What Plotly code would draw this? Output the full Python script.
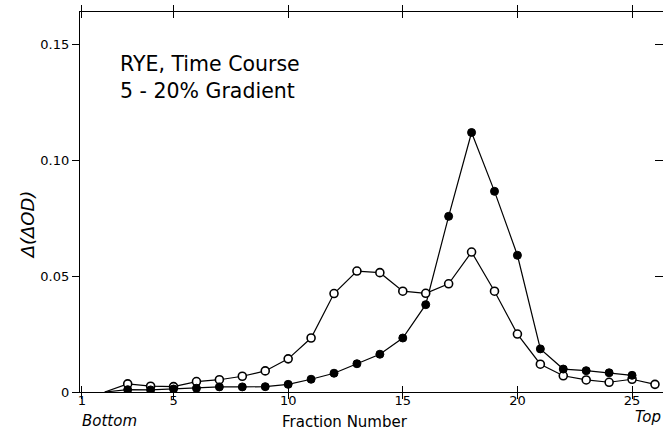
import plotly.graph_objects as go

fractions = [2, 3, 4, 5, 6, 7, 8, 9, 10, 11, 12, 13, 14, 15, 16, 17, 18, 19, 20, 21, 22, 23, 24, 25, 26]
open_vals = [0, 0.0035, 0.0025, 0.0023, 0.0045, 0.0053, 0.0068, 0.0091, 0.0143, 0.0233, 0.0425,
             0.0522, 0.0515, 0.0435, 0.0426, 0.0467, 0.0604, 0.0435, 0.025, 0.012, 0.007,
             0.0052, 0.0042, 0.0055, 0.0033]
filled_fractions = fractions[:-1]
filled_vals = [0, 0.001, 0.0009, 0.0013, 0.0016, 0.0022, 0.0022, 0.0023, 0.0033, 0.0055, 0.0081,
               0.0122, 0.0163, 0.0233, 0.0377, 0.0758, 0.112, 0.0866, 0.059, 0.0186, 0.0099,
               0.0092, 0.0083, 0.0072]
x_ticks = [1, 5, 10, 15, 20, 25]
y_ticks = [0, 0.05, 0.10, 0.15]
y_tick_text = ["0", "0.05", "0.10", "0.15"]

FONT = "DejaVu Sans, Liberation Sans, sans-serif"

fig = go.Figure()
# lines (start from fraction 2 with no marker)
fig.add_trace(go.Scatter(x=fractions, y=open_vals, mode="lines",
                         line=dict(color="black", width=1.2), showlegend=False))
fig.add_trace(go.Scatter(x=filled_fractions, y=filled_vals, mode="lines",
                         line=dict(color="black", width=1.2), showlegend=False))
# markers
fig.add_trace(go.Scatter(x=fractions[1:], y=open_vals[1:], mode="markers",
                         marker=dict(symbol="circle", size=8, color="white",
                                     line=dict(color="black", width=1.6)),
                         showlegend=False))
fig.add_trace(go.Scatter(x=filled_fractions[1:], y=filled_vals[1:], mode="markers",
                         marker=dict(symbol="circle", size=8, color="black",
                                     line=dict(color="black", width=1)),
                         showlegend=False))

fig.update_layout(
    width=671, height=431,
    margin=dict(l=80, r=8, t=12, b=39),
    paper_bgcolor="white", plot_bgcolor="white",
    font=dict(family=FONT, color="black", size=13),
    xaxis=dict(range=[0.92, 26.35], tickvals=x_ticks, ticktext=[str(v) for v in x_ticks],
               showline=True, linecolor="black", linewidth=1.2, mirror="allticks",
               ticks="inside", ticklen=6, tickcolor="black", showgrid=False, zeroline=False,
               ticklabelstandoff=-4,
               tickfont=dict(size=13, family=FONT)),
    yaxis=dict(range=[0, 0.164], tickvals=y_ticks, ticktext=y_tick_text,
               showline=True, linecolor="black", linewidth=1.2, mirror=False,
               ticks="outside", ticklen=7, tickcolor="black", showgrid=False, zeroline=False,
               tickfont=dict(size=13, family=FONT)),
    yaxis2=dict(range=[0, 0.164], tickvals=y_ticks[1:], overlaying="y", side="right",
                showticklabels=False, ticks="inside", ticklen=8, tickcolor="black",
                showline=False, showgrid=False, zeroline=False),
)
fig.add_trace(go.Scatter(x=[None], y=[None], yaxis="y2", showlegend=False))

fig.add_annotation(text="<i>Δ(ΔOD)</i>", xref="paper", yref="paper", x=-0.09, y=0.44,
                   textangle=-90, showarrow=False, font=dict(size=18, family=FONT),
                   xanchor="center", yanchor="middle")
fig.add_annotation(text="Fraction Number", xref="paper", yref="paper", x=0.455, y=-0.079,
                   showarrow=False, font=dict(size=15, family=FONT), xanchor="center", yanchor="middle")
fig.add_annotation(text="<i>Bottom</i>", xref="paper", yref="paper", x=0.0, y=-0.075,
                   showarrow=False, font=dict(size=15, family=FONT), xanchor="left", yanchor="middle")
fig.add_annotation(text="<i>Top</i>", xref="paper", yref="paper", x=1.0, y=-0.067,
                   showarrow=False, font=dict(size=15, family=FONT), xanchor="right", yanchor="middle")
fig.add_annotation(text="RYE, Time Course<br>5 - 20% Gradient", xref="paper", yref="paper",
                   x=0.066, y=0.9, align="left", showarrow=False,
                   font=dict(size=20.5, family=FONT), xanchor="left", yanchor="top")

fig.write_html("out.html", config={"displayModeBar": False},
               post_script="document.body.style.margin='0';document.body.style.overflow='hidden';")
